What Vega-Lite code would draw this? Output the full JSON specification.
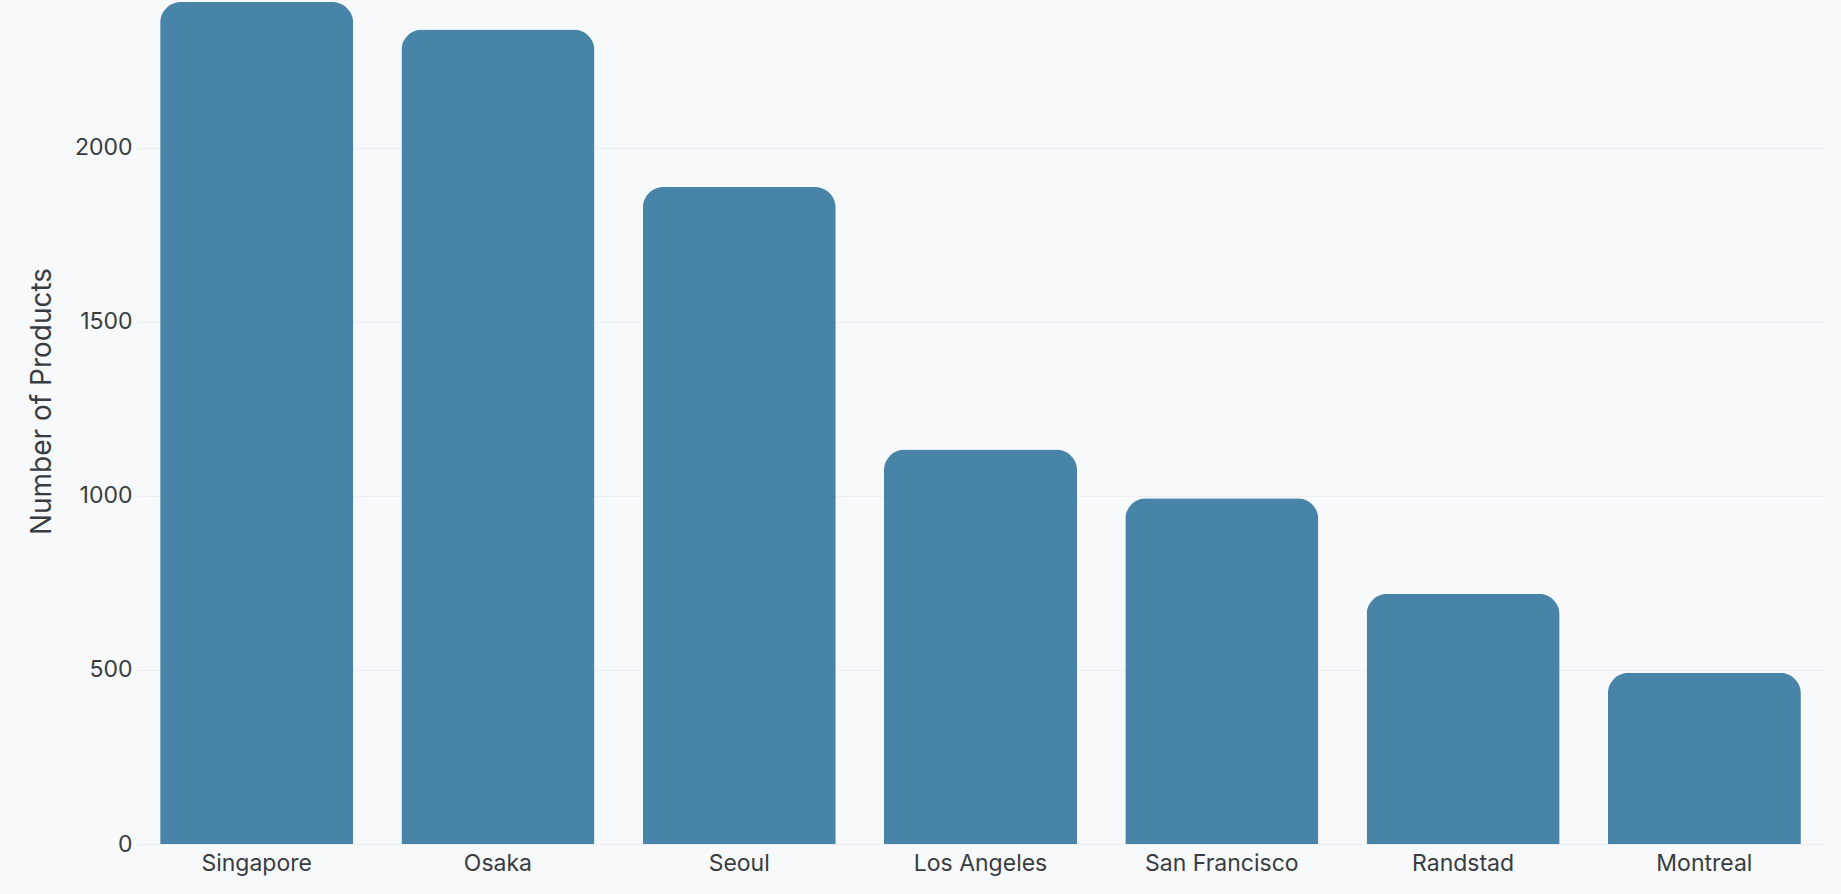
{
  "$schema": "https://vega.github.io/schema/vega-lite/v6.json",
  "width": 1689,
  "height": 842,
  "autosize": {"type": "none"},
  "padding": {"left": 136, "top": 2, "right": 16, "bottom": 50},
  "background": "#f8f9fb",
  "config": {
    "font": "Inter",
    "view": {"stroke": null},
    "axis": {
      "labelFont": "Inter",
      "titleFont": "Inter",
      "labelColor": "#383c41",
      "titleColor": "#383c41",
      "domain": false,
      "ticks": false,
      "gridColor": "#eceef1"
    }
  },
  "data": {
    "values": [
      {"city": "Singapore", "products": 2418},
      {"city": "Osaka", "products": 2339},
      {"city": "Seoul", "products": 1887},
      {"city": "Los Angeles", "products": 1133},
      {"city": "San Francisco", "products": 993},
      {"city": "Randstad", "products": 719},
      {"city": "Montreal", "products": 492}
    ]
  },
  "mark": {
    "type": "bar",
    "color": "#4884a8",
    "cornerRadiusTopLeft": 21,
    "cornerRadiusTopRight": 21
  },
  "encoding": {
    "x": {
      "field": "city",
      "type": "nominal",
      "sort": null,
      "title": null,
      "scale": {"paddingInner": 0.2, "paddingOuter": 0.1},
      "axis": {"labelAngle": 0, "labelFontSize": 23, "labelPadding": 8, "grid": false}
    },
    "y": {
      "field": "products",
      "type": "quantitative",
      "title": "Number of Products",
      "scale": {"nice": false},
      "axis": {
        "values": [0, 500, 1000, 1500, 2000],
        "format": "d",
        "labelFontSize": 23,
        "labelPadding": 4,
        "titleFontSize": 28,
        "titleFontWeight": "normal",
        "titlePadding": 18,
        "titleY": 399
      }
    }
  }
}
